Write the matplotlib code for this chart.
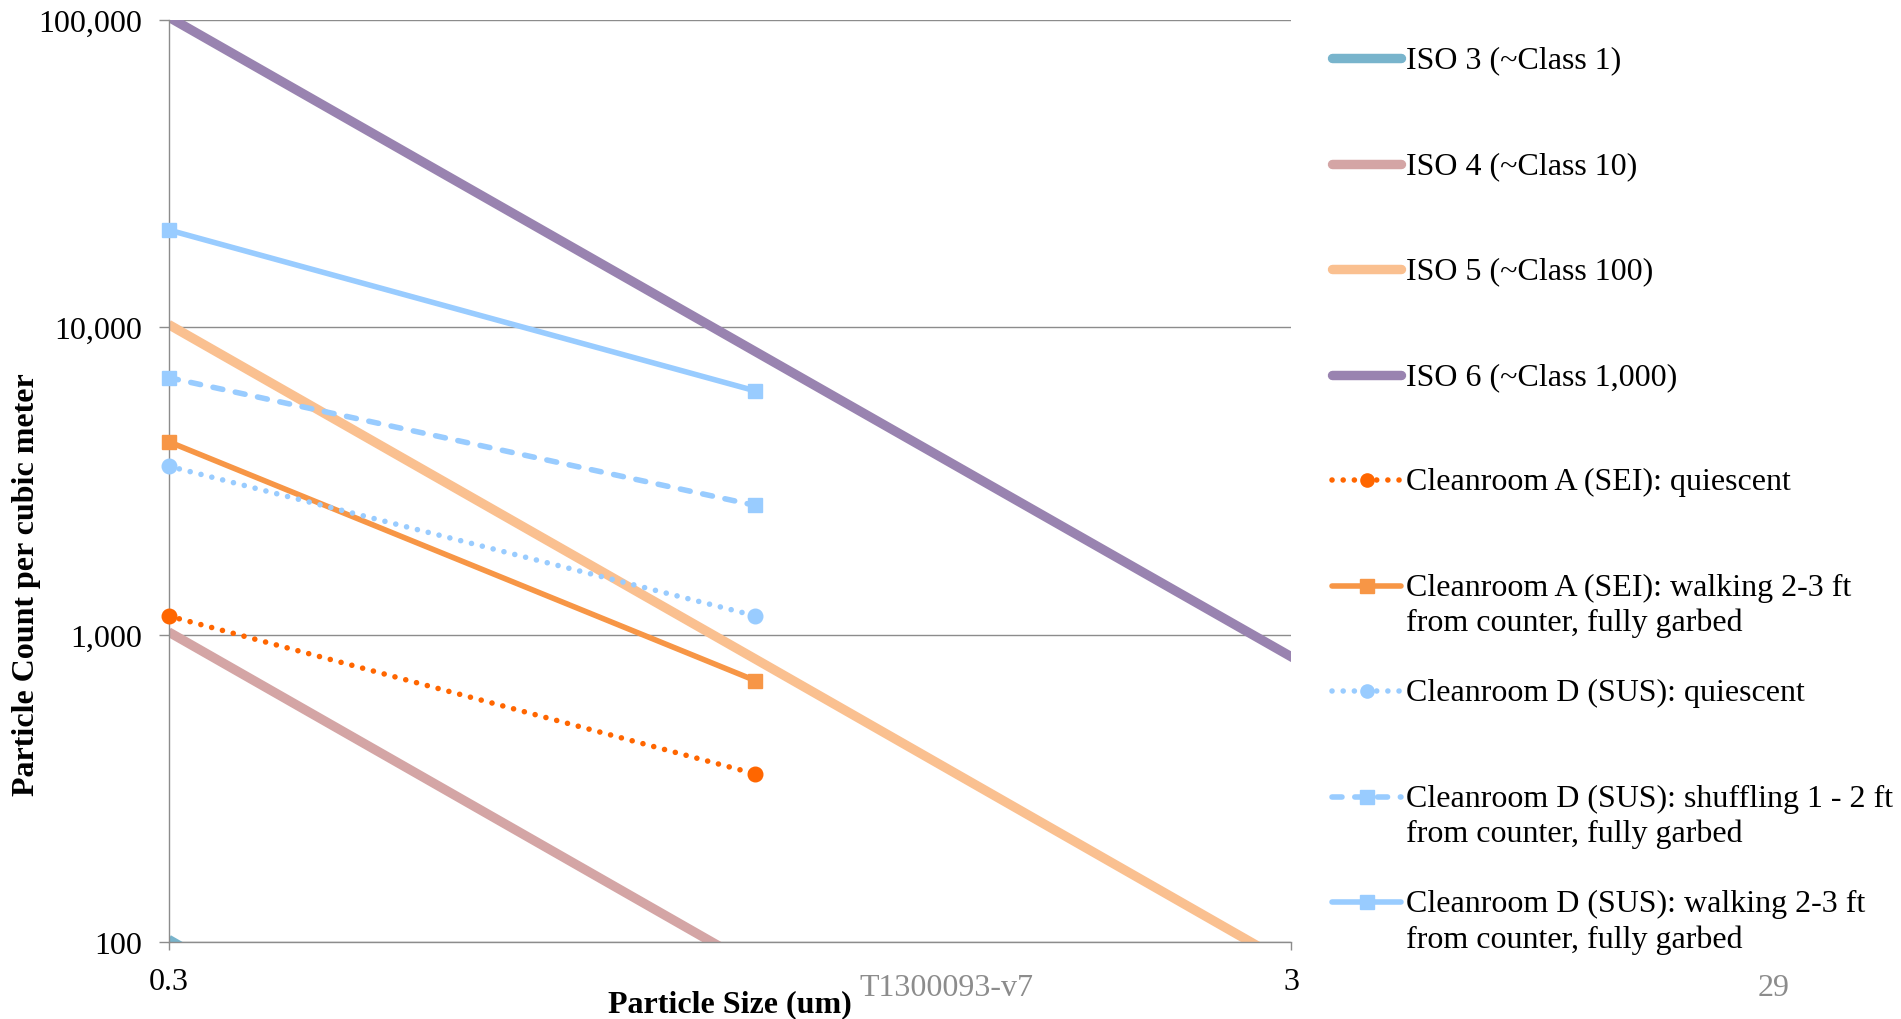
import matplotlib
matplotlib.use("Agg")
import matplotlib.pyplot as plt
from matplotlib.lines import Line2D
from matplotlib.ticker import FixedLocator, NullLocator, FuncFormatter

plt.rcParams['font.family'] = ['Liberation Serif', 'DejaVu Serif']

# ISO 14644-1 class limits (particles per m^3)
iso_sizes = [0.3, 0.5, 1.0, 5.0]
iso3 = [102, 35, 8]
iso4 = [1020, 352, 83]
iso5 = [10200, 3520, 832, 29]
iso6 = [102000, 35200, 8320, 293]

# measured cleanroom counts at 0.3 um and 1.0 um
sizes = [0.3, 1.0]
a_quiet = [1150, 352]
a_walk = [4240, 708]
d_quiet = [3530, 1150]
d_shuffle = [6850, 2630]
d_walk = [20700, 6200]

labels = ["ISO 3 (~Class 1)", "ISO 4 (~Class 10)", "ISO 5 (~Class 100)",
          "ISO 6 (~Class 1,000)", "Cleanroom A (SEI): quiescent",
          "Cleanroom A (SEI): walking 2-3 ft\nfrom counter, fully garbed",
          "Cleanroom D (SUS): quiescent",
          "Cleanroom D (SUS): shuffling 1 - 2 ft\nfrom counter, fully garbed",
          "Cleanroom D (SUS): walking 2-3 ft\nfrom counter, fully garbed"]

W, H = 1901, 1020
fig = plt.figure(figsize=(W / 100, H / 100), dpi=100)
ax = fig.add_axes([168.5 / W, 1 - 943 / H, (1291 - 168.5) / W, (943 - 20.6) / H])

dot = (0, (0.01, 2.0))
dash = (0, (1.8, 2.3))
FS = 23
styles = [
    (iso_sizes[:3], iso3, dict(color='#78B4CC', lw=6.8, solid_capstyle='butt')),
    (iso_sizes[:3], iso4, dict(color='#D4A5A5', lw=6.8, solid_capstyle='butt')),
    (iso_sizes, iso5, dict(color='#FAC090', lw=6.8, solid_capstyle='butt')),
    (iso_sizes, iso6, dict(color='#9983B0', lw=6.8, solid_capstyle='butt')),
    (sizes, a_quiet, dict(color='#FF6600', lw=4, ls=dot, dash_capstyle='round',
                          marker='o', ms=10.5)),
    (sizes, a_walk, dict(color='#F79646', lw=4, marker='s', ms=10.5)),
    (sizes, d_quiet, dict(color='#99CCFF', lw=4, ls=dot, dash_capstyle='round',
                          marker='o', ms=10.5)),
    (sizes, d_shuffle, dict(color='#99CCFF', lw=4, ls=dash, dash_capstyle='round',
                            marker='s', ms=10.5)),
    (sizes, d_walk, dict(color='#99CCFF', lw=4, marker='s', ms=10.5)),
]
for i, (xs, ys, kw) in enumerate(styles):
    # ISO limit lines run past the axes and get clipped; measured series stay inside
    ax.plot(xs, ys, clip_on=(i < 4), zorder=2 + (i >= 4), **kw)

ax.set_xscale('log')
ax.set_yscale('log')
ax.set_xlim(0.3, 3)
ax.set_ylim(100, 100000)

ax.xaxis.set_major_locator(FixedLocator([0.3, 3]))
ax.xaxis.set_minor_locator(NullLocator())
ax.xaxis.set_major_formatter(FuncFormatter(lambda v, p: f"{v:g}"))
ax.yaxis.set_major_locator(FixedLocator([100, 1000, 10000, 100000]))
ax.yaxis.set_minor_locator(NullLocator())
ax.yaxis.set_major_formatter(FuncFormatter(lambda v, p: f"{v:,.0f}"))

ax.grid(axis='y', color='#8c8c8c', lw=1)
ax.set_axisbelow(True)
for s in ['top', 'right']:
    ax.spines[s].set_visible(False)
for s in ['left', 'bottom']:
    ax.spines[s].set_color('#8c8c8c')
    ax.spines[s].set_linewidth(1)
ax.tick_params(axis='y', length=7, width=1, color='#8c8c8c', pad=12, labelsize=FS)
ax.tick_params(axis='x', length=6, width=1, color='#8c8c8c', pad=12, labelsize=FS)

ax.set_xlabel("Particle Size (um)", fontsize=FS, fontweight='bold')
ax.xaxis.set_label_coords(0.5, -0.051)
ax.set_ylabel("Particle Count per cubic meter", fontsize=FS, fontweight='bold')
ax.yaxis.set_label_coords(-0.114, 0.389)

# legend drawn by hand so the handles sit on the first text line
y0 = 59.4
step = 105.5
for i, (lab, (xs, ys, kw)) in enumerate(zip(labels, styles)):
    yc = y0 + i * step
    kw2 = dict(kw)
    if i < 4:
        kw2['solid_capstyle'] = 'round'
        ln = Line2D([1332 / W, 1401 / W], [1 - yc / H] * 2,
                    transform=fig.transFigure, **kw2)
    else:
        kw2['ms'] = 9.5
        if kw2.get('ls') is None:
            kw2['solid_capstyle'] = 'round'
        ln = Line2D([1332 / W, 1366.5 / W, 1401 / W], [1 - yc / H] * 3,
                    transform=fig.transFigure, markevery=[1], **kw2)
    fig.add_artist(ln)
    fig.text(1406 / W, 1 - (yc - 13) / H, lab, fontsize=FS, va='top', ha='left',
             linespacing=1.26)

fig.text(946 / W, 1 - 989 / H, "T1300093-v7", fontsize=FS, color='#8c8c8c',
         ha='center', va='center')
fig.text(1774 / W, 1 - 989 / H, "29", fontsize=FS, color='#8c8c8c',
         ha='center', va='center')

fig.savefig("out.png", dpi=100)
